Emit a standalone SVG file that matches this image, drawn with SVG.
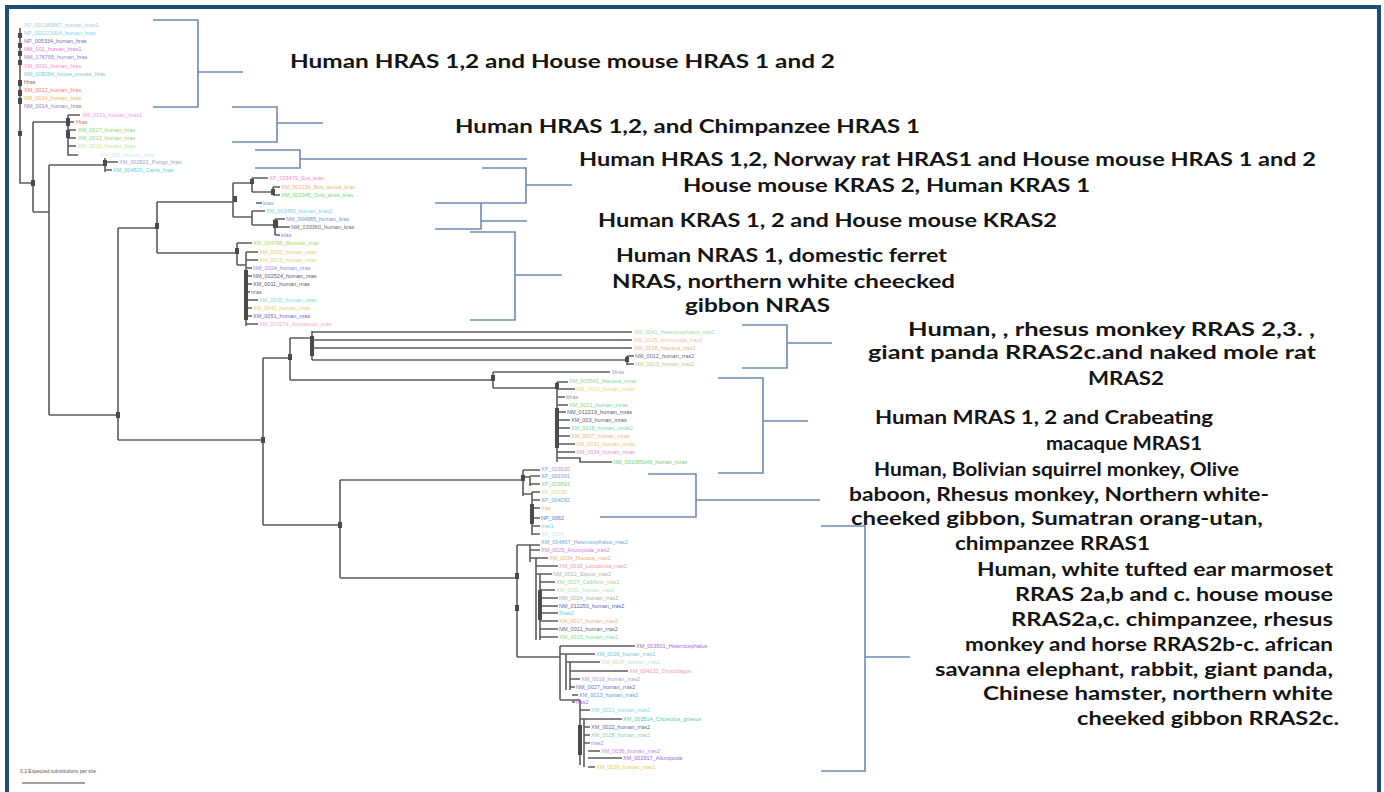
<svg xmlns="http://www.w3.org/2000/svg" width="1384" height="792" viewBox="0 0 1384 792">
<style>
.t{stroke:#5c5c5c;stroke-width:1.6;fill:none}
.b{stroke:#6f89b6;stroke-width:1.6;fill:none}
.n{fill:#4a4a4a}
.l{font-family:"Liberation Sans",Arial,sans-serif;font-size:5.5px;opacity:0.8}
.c{font-family:Lato,"Open Sans","Liberation Sans",sans-serif;font-size:19px;font-weight:bold;fill:#141414}
</style>
<rect x="0" y="0" width="1384" height="792" fill="#ffffff"/>
<rect x="7" y="7" width="1372" height="800" fill="none" stroke="#1f4e79" stroke-width="4"/>

<g id="connectors">
 <g id="tree">
  <path class="t" d="M20 28V183H33M33 122V212M33 122H68M68 115V155H78M68 115H80M68 122H74M68 130H76M68 138H76M68 146H76"/>
  <path class="t" d="M49 165V415M33 212H49M49 165H105M105 158V172M105 162H118M105 170H112M49 415H118"/>
  <path class="t" d="M118 228V440M118 228H157M157 202V253M157 202H233M233 183V217M233 183H252M252 178V192M252 178H268M252 192H273M273 187V195M273 187H280M273 195H280M256 203H262M233 217H252M252 211V225M252 211H265M252 225H275M275 219V235M275 219H285M275 227H290M275 235H280"/>
  <path class="t" d="M157 253H237M237 243V265M237 243H252M237 265H246M246 252V326M246 252H258M246 260H258M246 268H252M246 276H252M246 284H252M246 292H250M246 300H258M246 308H252M246 316H252M246 324H258"/>
  <path class="t" d="M118 440H263M263 358V525M263 358H290M290 338V380M290 338H312M312 331V360M312 332H632M312 340H632M312 348H632M312 360H627M627 356V365M627 356H634M627 364H634"/>
  <path class="t" d="M290 380H493M493 372V388M493 372H610M493 388H557M557 382V462M557 382H568M557 389H575M557 397H565M557 405H568M557 412H566M557 420H570M557 428H570M557 436H570M557 444H575M557 452H575M557 458H580V462H612"/>
  <path class="t" d="M263 525H340M340 480V578M340 480H523M523 470V496M523 470H540M523 477H530M530 476V486M530 476H540M530 484H540M523 494H532M532 492V535M532 492H540M532 500H540M532 508H540M532 518H540M532 526H540M532 534H540"/>
  <path class="t" d="M340 578H517M517 545V657M517 545H540M530 545V562M530 550H540M530 558H548M536 558V640M536 566H558M536 574H552M540 582H555M540 590H555M540 598H558M540 606H558M540 613H558M540 621H558M540 629H558M540 637H558M540 574V640"/>
  <path class="t" d="M517 657H560M560 646V700M560 646H635M560 654H595M566 654V690M566 662H600M570 671H628M570 662V690M570 679H580M570 687H575M572 695H578M572 702H575M560 700H580M580 700V765M580 710H590M580 719H622M584 727H590M584 735H590M584 743H590M588 751H600M588 758H622M588 767H595M584 719V767"/>
 </g>
 <g id="nodes-marks">
  <rect class="n" x="18" y="33" width="4" height="5"/><rect class="n" x="18" y="43" width="4" height="5"/><rect class="n" x="18" y="51" width="4" height="5"/><rect class="n" x="18" y="60" width="4" height="5"/><rect class="n" x="18" y="80" width="4" height="6"/><rect class="n" x="18" y="90" width="4" height="6"/><rect class="n" x="18" y="98" width="4" height="6"/><rect class="n" x="18" y="131" width="4" height="5"/>
  <rect class="n" x="31" y="180" width="4" height="6"/><rect class="n" x="66" y="118" width="4" height="8"/><rect class="n" x="66" y="130" width="4" height="8"/><rect class="n" x="103" y="160" width="4" height="6"/>
  <rect class="n" x="116" y="412" width="4" height="6"/><rect class="n" x="155" y="223" width="4" height="6"/><rect class="n" x="233" y="196" width="4" height="6"/><rect class="n" x="250" y="179" width="4" height="5"/><rect class="n" x="271" y="189" width="4" height="6"/><rect class="n" x="273" y="220" width="5" height="8"/>
  <rect class="n" x="235" y="248" width="4" height="6"/><rect class="n" x="244" y="270" width="4" height="50"/>
  <rect class="n" x="261" y="437" width="4" height="6"/><rect class="n" x="288" y="354" width="4" height="6"/><rect class="n" x="310" y="336" width="4" height="20"/><rect class="n" x="625" y="357" width="4" height="5"/>
  <rect class="n" x="491" y="375" width="4" height="6"/><rect class="n" x="555" y="383" width="4" height="6"/><rect class="n" x="555" y="408" width="4" height="40"/>
  <rect class="n" x="338" y="522" width="4" height="6"/><rect class="n" x="521" y="475" width="4" height="6"/><rect class="n" x="530" y="504" width="4" height="20"/>
  <rect class="n" x="515" y="573" width="4" height="6"/><rect class="n" x="515" y="605" width="4" height="6"/><rect class="n" x="538" y="590" width="4" height="30"/><rect class="n" x="578" y="725" width="4" height="30"/>
 </g>
 <g id="brackets">
  <path class="b" d="M153 20H198V107H153M198 72H243"/>
  <path class="b" d="M232 107H277V142H232M277 123H323"/>
  <path class="b" d="M255 150H300V168H255M300 159H527"/>
  <path class="b" d="M482 168H526V203H435M526 185H572M435 229H481V203M481 221H527"/>
  <path class="b" d="M470 232H515V320H470M515 275H562"/>
  <path class="b" d="M742 325H787V368H742M787 343H832"/>
  <path class="b" d="M718 378H763V473H718M763 421H808"/>
  <path class="b" d="M648 474H696V517H600M696 500H820"/>
  <path class="b" d="M821 526H865V771H821M865 657H910"/>
 </g>
</g>

<g id="leaves-hras">
 <text class="l" x="24" y="27" fill="#9bbbe0">XP_001380867_human_hras2</text>
 <text class="l" x="24" y="35" fill="#5ad0f0">NP_001123914_human_hras</text>
 <text class="l" x="24" y="43" fill="#4a4a9a">NP_005334_human_hras</text>
 <text class="l" x="24" y="51" fill="#e050d0">NM_001_human_hras1</text>
 <text class="l" x="24" y="59" fill="#7060d0">NM_176795_human_hras</text>
 <text class="l" x="24" y="68" fill="#f070c0">XM_0001_human_hras</text>
 <text class="l" x="24" y="76" fill="#50c0d0">NM_008284_house_mouse_hras</text>
 <text class="l" x="24" y="84" fill="#505050">Hras</text>
 <text class="l" x="24" y="92" fill="#f06040">XM_0012_human_hras</text>
 <text class="l" x="24" y="100" fill="#f0a040">XM_0024_human_hras</text>
 <text class="l" x="24" y="108" fill="#7060c0">NM_0014_human_hras</text>
 <text class="l" x="82" y="117" fill="#f080e0">XM_0001_human_hras1</text>
 <text class="l" x="76" y="124" fill="#e04020">Hras</text>
 <text class="l" x="78" y="132" fill="#60d060">XM_0017_human_hras</text>
 <text class="l" x="78" y="140" fill="#70d070">XM_0013_human_hras</text>
 <text class="l" x="78" y="148" fill="#b0e090">XM_0019_human_hras</text>
 <text class="l" x="100" y="157" fill="#c8e0f0">XM_002_human_hras</text>
 <text class="l" x="119" y="164" fill="#8090b0">XM_002821_Pongo_hras</text>
 <text class="l" x="113" y="172" fill="#40c0d0">XM_004820_Canis_hras</text>
</g>
<g id="leaves-kras">
 <text class="l" x="269" y="180" fill="#f070b0">XP_003479_Sus_kras</text>
 <text class="l" x="281" y="189" fill="#f0a050">XM_001234_Bos_taurus_kras</text>
 <text class="l" x="281" y="197" fill="#50d050">XM_002345_Ovis_aries_kras</text>
 <text class="l" x="263" y="205" fill="#6080f0">kras</text>
 <text class="l" x="266" y="213" fill="#50c8f0">XM_003455_human_kras2</text>
 <text class="l" x="286" y="221" fill="#5070e0">NM_004985_human_kras</text>
 <text class="l" x="291" y="229" fill="#404060">NM_033360_human_kras</text>
 <text class="l" x="281" y="237" fill="#9050d0">kras</text>
</g>
<g id="leaves-nras">
 <text class="l" x="253" y="245" fill="#90d040">XM_004766_Mustela_nras</text>
 <text class="l" x="259" y="254" fill="#e8c040">XM_0002_human_nras</text>
 <text class="l" x="259" y="262" fill="#e0c850">XM_0015_human_nras</text>
 <text class="l" x="253" y="270" fill="#7070e0">NM_0024_human_nras</text>
 <text class="l" x="253" y="278" fill="#303040">NM_002524_human_nras</text>
 <text class="l" x="253" y="286" fill="#303040">XM_0011_human_nras</text>
 <text class="l" x="251" y="294" fill="#404040">nras</text>
 <text class="l" x="259" y="302" fill="#60d0d0">XM_0032_human_nras</text>
 <text class="l" x="253" y="310" fill="#e8c040">XM_0041_human_nras</text>
 <text class="l" x="253" y="318" fill="#4040c0">XM_0051_human_nras</text>
 <text class="l" x="259" y="326" fill="#f090d0">XM_003274_Nomascus_nras</text>
</g>
<g id="leaves-rras2a">
 <text class="l" x="634" y="334" fill="#90d090">XM_0041_Heterocephalus_rras2</text>
 <text class="l" x="634" y="342" fill="#f0b0a0">XM_0025_Ailuropoda_rras2</text>
 <text class="l" x="634" y="350" fill="#f0a070">XM_0018_Macaca_rras2</text>
 <text class="l" x="635" y="358" fill="#404060">NM_0012_human_rras2</text>
 <text class="l" x="635" y="366" fill="#b0c060">NM_0013_human_rras2</text>
</g>
<g id="leaves-mras">
 <text class="l" x="612" y="374" fill="#909090">Mras</text>
 <text class="l" x="569" y="383" fill="#70d070">XM_005541_Macaca_mras</text>
 <text class="l" x="576" y="391" fill="#e8d060">XM_0013_human_mras</text>
 <text class="l" x="566" y="399" fill="#808080">Mras</text>
 <text class="l" x="569" y="407" fill="#60d060">XM_0021_human_mras</text>
 <text class="l" x="567" y="414" fill="#303030">NM_012219_human_mras</text>
 <text class="l" x="571" y="422" fill="#303050">XM_003_human_mras</text>
 <text class="l" x="571" y="430" fill="#50d080">XM_0018_human_mras2</text>
 <text class="l" x="571" y="438" fill="#f0a060">XM_0027_human_mras</text>
 <text class="l" x="576" y="446" fill="#f0b060">XM_0031_human_mras</text>
 <text class="l" x="576" y="454" fill="#f070c0">XM_0034_human_mras</text>
 <text class="l" x="613" y="464" fill="#60c060">NM_001085049_human_mras</text>
</g>
<g id="leaves-rras1">
 <text class="l" x="541" y="471" fill="#a070e0">XP_003920</text>
 <text class="l" x="541" y="478" fill="#5080e0">XP_001091</text>
 <text class="l" x="541" y="486" fill="#70c070">XP_003893</text>
 <text class="l" x="541" y="494" fill="#e8d060">XP_00235</text>
 <text class="l" x="541" y="502" fill="#4090c0">XP_004092</text>
 <text class="l" x="541" y="510" fill="#f0a050">rras</text>
 <text class="l" x="541" y="520" fill="#3050d0">NP_0062</text>
 <text class="l" x="541" y="528" fill="#50c0e0">rras1</text>
 <text class="l" x="541" y="536" fill="#c0e0f0">XP_0034</text>
</g>
<g id="leaves-rras2b">
 <text class="l" x="541" y="544" fill="#5090d0">XM_004867_Heterocephalus_rras2</text>
 <text class="l" x="541" y="552" fill="#c060e0">XM_0025_Ailuropoda_rras2</text>
 <text class="l" x="549" y="560" fill="#f0a060">XM_0034_Macaca_rras2</text>
 <text class="l" x="559" y="568" fill="#f080a0">XM_0018_Loxodonta_rras2</text>
 <text class="l" x="553" y="576" fill="#a0a0a0">NM_0012_Equus_rras2</text>
 <text class="l" x="556" y="584" fill="#80d080">XM_0027_Callithrix_rras2</text>
 <text class="l" x="556" y="592" fill="#b0e0a0">XM_0011_human_rras2</text>
 <text class="l" x="559" y="600" fill="#90a090">NM_0024_human_rras2</text>
 <text class="l" x="559" y="608" fill="#3040a0">NM_012250_human_rras2</text>
 <text class="l" x="559" y="615" fill="#40c0e0">Rras2</text>
 <text class="l" x="559" y="623" fill="#f0a050">XM_0017_human_rras2</text>
 <text class="l" x="559" y="631" fill="#404060">NM_0011_human_rras2</text>
 <text class="l" x="559" y="639" fill="#70d070">XM_0015_human_rras2</text>
 <text class="l" x="636" y="648" fill="#9040c0">XM_003501_Heterocephalus</text>
 <text class="l" x="596" y="656" fill="#40c0d0">XM_0026_human_rras2</text>
 <text class="l" x="601" y="664" fill="#c0e0a0">XM_0034_human_rras2</text>
 <text class="l" x="629" y="673" fill="#f080a0">XM_004132_Oryctolagus</text>
 <text class="l" x="581" y="681" fill="#a080e0">XM_0019_human_rras2</text>
 <text class="l" x="576" y="689" fill="#3050d0">NM_0027_human_rras2</text>
 <text class="l" x="579" y="697" fill="#4080e0">XM_0013_human_rras2</text>
 <text class="l" x="576" y="704" fill="#9050d0">rras2</text>
 <text class="l" x="591" y="712" fill="#60d0e0">XM_0021_human_rras2</text>
 <text class="l" x="623" y="721" fill="#30c090">XM_003514_Cricetulus_griseus</text>
 <text class="l" x="591" y="729" fill="#404060">XM_0022_human_rras2</text>
 <text class="l" x="591" y="737" fill="#80c080">XM_0028_human_rras2</text>
 <text class="l" x="591" y="745" fill="#a060d0">rras2</text>
 <text class="l" x="601" y="753" fill="#c060e0">XM_0036_human_rras2</text>
 <text class="l" x="623" y="760" fill="#8040d0">XM_002917_Ailuropoda</text>
 <text class="l" x="596" y="769" fill="#e0c040">XM_0039_human_rras2</text>
</g>

<g id="scale">
 <text x="20" y="773" font-family="Liberation Sans,Arial,sans-serif" font-size="5" fill="#555">0.2 Expected substitutions per site</text>
 <path d="M22 783H85" stroke="#444" stroke-width="1.2"/>
</g>

<g id="cap-hras1"><text class="c" x="290" y="68" textLength="545" lengthAdjust="spacingAndGlyphs">Human HRAS 1,2 and House mouse HRAS 1 and 2</text></g>
<g id="cap-hras2"><text class="c" x="455" y="133" textLength="465" lengthAdjust="spacingAndGlyphs">Human HRAS 1,2, and Chimpanzee HRAS 1</text></g>
<g id="cap-hras3"><text class="c" x="579" y="166" textLength="737" lengthAdjust="spacingAndGlyphs">Human HRAS 1,2, Norway rat HRAS1 and House mouse HRAS 1 and 2</text></g>
<g id="cap-kras1"><text class="c" x="683" y="192" textLength="407" lengthAdjust="spacingAndGlyphs">House mouse KRAS 2, Human KRAS 1</text></g>
<g id="cap-kras2"><text class="c" x="598" y="227" textLength="459" lengthAdjust="spacingAndGlyphs">Human KRAS 1, 2 and House mouse KRAS2</text></g>
<g id="cap-nras">
 <text class="c" x="616" y="262" textLength="331" lengthAdjust="spacingAndGlyphs">Human NRAS 1, domestic ferret</text>
 <text class="c" x="612" y="288" textLength="343" lengthAdjust="spacingAndGlyphs">NRAS, northern white  cheecked</text>
 <text class="c" x="685" y="312" textLength="145" lengthAdjust="spacingAndGlyphs">gibbon NRAS</text>
</g>
<g id="cap-rras2a">
 <text class="c" x="908" y="336" textLength="407" lengthAdjust="spacingAndGlyphs">Human, , rhesus monkey RRAS 2,3. ,</text>
 <text class="c" x="868" y="359" textLength="448" lengthAdjust="spacingAndGlyphs">giant panda RRAS2c.and naked mole rat</text>
 <text class="c" x="1088" y="385" textLength="76" lengthAdjust="spacingAndGlyphs">MRAS2</text>
</g>
<g id="cap-mras">
 <text class="c" x="875" y="424" textLength="338" lengthAdjust="spacingAndGlyphs">Human MRAS 1, 2 and Crabeating</text>
 <text class="c" x="1046" y="450" textLength="156" lengthAdjust="spacingAndGlyphs">macaque MRAS1</text>
</g>
<g id="cap-rras1">
 <text class="c" x="874" y="476" textLength="365" lengthAdjust="spacingAndGlyphs">Human, Bolivian squirrel monkey, Olive</text>
 <text class="c" x="849" y="501" textLength="420" lengthAdjust="spacingAndGlyphs">baboon, Rhesus monkey, Northern white-</text>
 <text class="c" x="851" y="525" textLength="412" lengthAdjust="spacingAndGlyphs">cheeked gibbon, Sumatran orang-utan,</text>
 <text class="c" x="955" y="550" textLength="195" lengthAdjust="spacingAndGlyphs">chimpanzee RRAS1</text>
</g>
<g id="cap-rras2b">
 <text class="c" x="977" y="576" textLength="356" lengthAdjust="spacingAndGlyphs">Human, white tufted ear marmoset</text>
 <text class="c" x="1015" y="601" textLength="318" lengthAdjust="spacingAndGlyphs">RRAS 2a,b and c. house mouse</text>
 <text class="c" x="1011" y="626" textLength="322" lengthAdjust="spacingAndGlyphs">RRAS2a,c. chimpanzee, rhesus</text>
 <text class="c" x="965" y="651" textLength="368" lengthAdjust="spacingAndGlyphs">monkey and horse RRAS2b-c. african</text>
 <text class="c" x="935" y="676" textLength="398" lengthAdjust="spacingAndGlyphs">savanna elephant, rabbit, giant panda,</text>
 <text class="c" x="983" y="700" textLength="350" lengthAdjust="spacingAndGlyphs">Chinese hamster, northern white</text>
 <text class="c" x="1077" y="725" textLength="262" lengthAdjust="spacingAndGlyphs">cheeked gibbon RRAS2c.</text>
</g>
</svg>
